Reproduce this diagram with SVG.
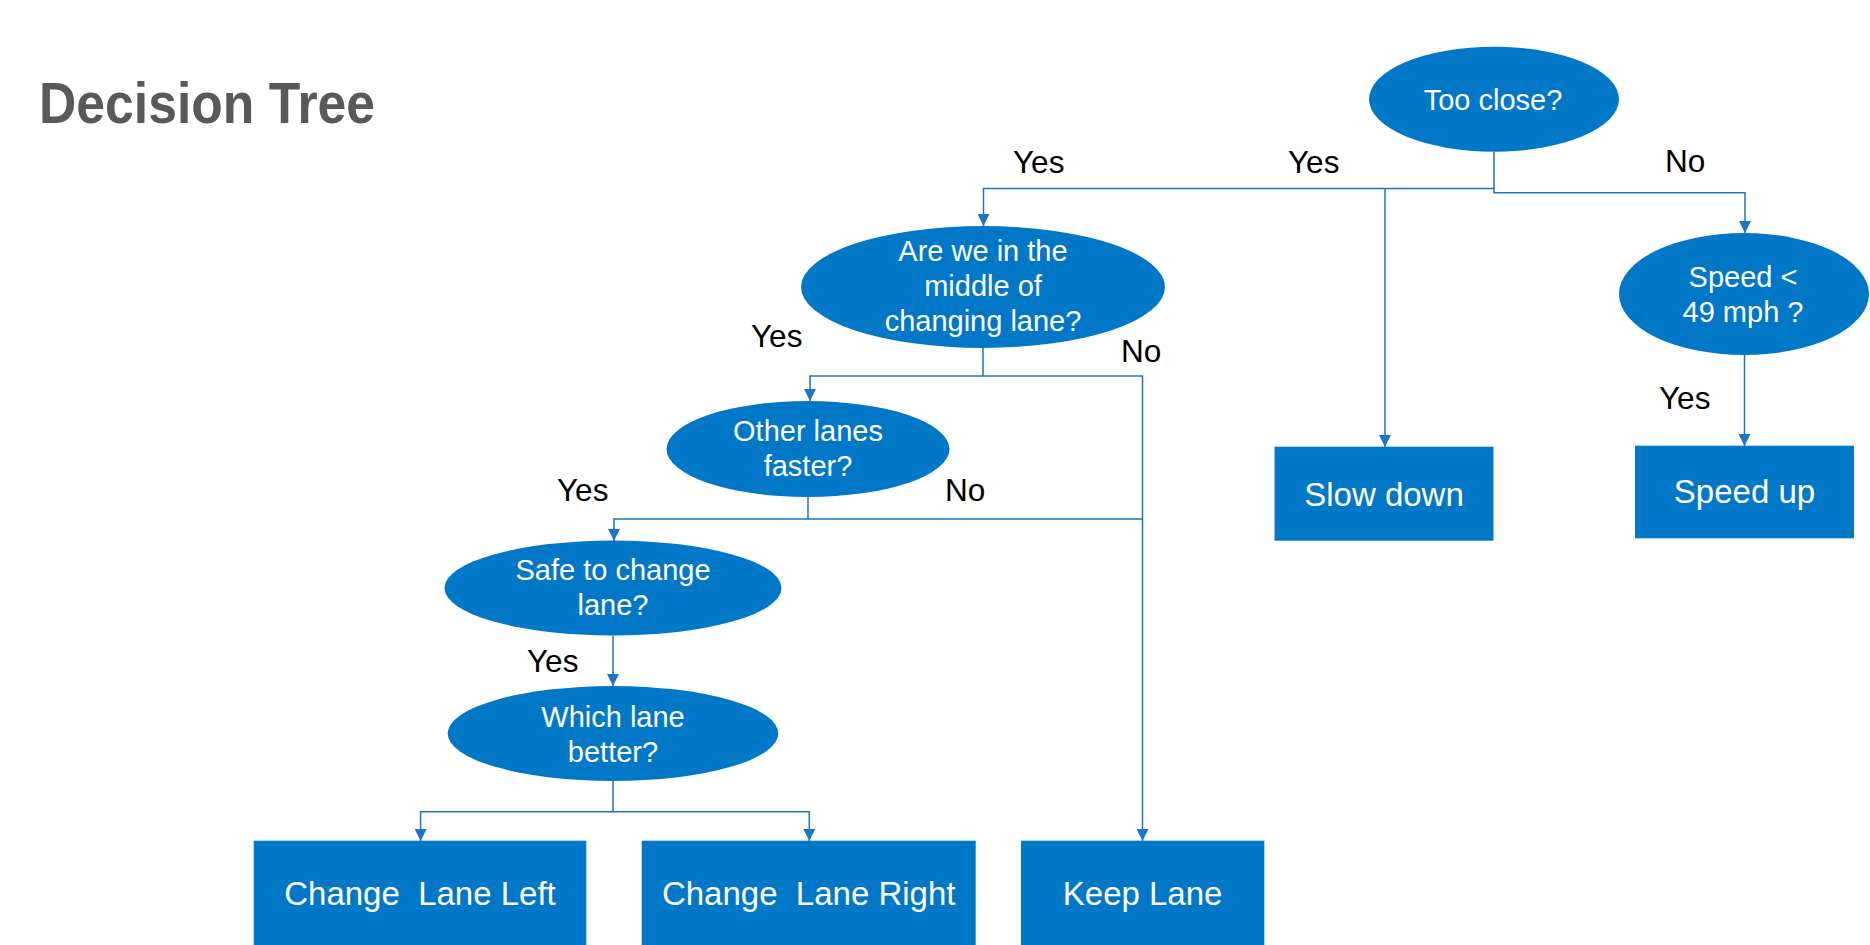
<svg xmlns="http://www.w3.org/2000/svg" width="1870" height="945" viewBox="0 0 1870 945">
<defs>
<marker id="arr" markerUnits="userSpaceOnUse" markerWidth="12" markerHeight="12" refX="12" refY="6" orient="auto">
<path d="M0,0 L12,6 L0,12 z" fill="#1C75C6"/>
</marker>
<style>
.n{fill:#0177C8;}
.c{fill:none;stroke:#1C75C6;stroke-width:1.5;}
.t{font-family:"Liberation Sans",Arial,sans-serif;fill:#fff;text-anchor:middle;font-size:29px;}
.b{font-family:"Liberation Sans",Arial,sans-serif;fill:#fff;text-anchor:middle;font-size:33px;white-space:pre;}
.l{font-family:"Liberation Sans",Arial,sans-serif;fill:#000;font-size:31.5px;}
</style>
</defs>
<rect width="1870" height="945" fill="#fff"/>
<text x="39" y="123" font-family="Liberation Sans,Arial,sans-serif" font-weight="bold" font-size="58" fill="#58595B" textLength="336" lengthAdjust="spacingAndGlyphs">Decision Tree</text>
<g id="connectors">
<path class="c" d="M1494,152 V188.5 H983.5 V226" marker-end="url(#arr)"/>
<path class="c" d="M1385,188.5 V447" marker-end="url(#arr)"/>
<path class="c" d="M1494,188 V192.7 H1745 V233" marker-end="url(#arr)"/>
<path class="c" d="M1744.5,355 V446" marker-end="url(#arr)"/>
<path class="c" d="M983,347 V376 H810 V401" marker-end="url(#arr)"/>
<path class="c" d="M983,376 H1142.5 V841" marker-end="url(#arr)"/>
<path class="c" d="M808,497 V519 H614 V541" marker-end="url(#arr)"/>
<path class="c" d="M808,519 H1142.5"/>
<path class="c" d="M613,636 V686" marker-end="url(#arr)"/>
<path class="c" d="M613,781 V811.7 H420.6 V841" marker-end="url(#arr)"/>
<path class="c" d="M613,811.7 H809.3 V841" marker-end="url(#arr)"/>
<text class="l" x="1013" y="172.5">Yes</text>
<text class="l" x="1288" y="172.5">Yes</text>
<text class="l" x="1665" y="172">No</text>
<text class="l" x="751" y="346.5">Yes</text>
<text class="l" x="1121" y="362">No</text>
<text class="l" x="557" y="501">Yes</text>
<text class="l" x="945" y="501">No</text>
<text class="l" x="527" y="672">Yes</text>
<text class="l" x="1659" y="409">Yes</text>
</g>
<g id="too-close">
<ellipse class="n" cx="1494" cy="99.2" rx="125" ry="52.5"/>
<text class="t" x="1493" y="110">Too close?</text>
</g>
<g id="speed-check">
<ellipse class="n" cx="1744" cy="294" rx="125" ry="61"/>
<text class="t" x="1743" y="287">Speed &lt;</text>
<text class="t" x="1743" y="322">49 mph ?</text>
</g>
<g id="changing-lane">
<ellipse class="n" cx="983" cy="287" rx="182" ry="61"/>
<text class="t" x="983" y="261">Are we in the</text>
<text class="t" x="983" y="296">middle of</text>
<text class="t" x="983" y="331">changing lane?</text>
</g>
<g id="other-lanes">
<ellipse class="n" cx="808" cy="449" rx="141.5" ry="48"/>
<text class="t" x="808" y="441">Other lanes</text>
<text class="t" x="808" y="476">faster?</text>
</g>
<g id="safe">
<ellipse class="n" cx="613" cy="588" rx="168.5" ry="47.5"/>
<text class="t" x="613" y="580">Safe to change</text>
<text class="t" x="613" y="615">lane?</text>
</g>
<g id="which-lane">
<ellipse class="n" cx="613" cy="733.5" rx="165.3" ry="47.5"/>
<text class="t" x="613" y="727">Which lane</text>
<text class="t" x="613" y="762">better?</text>
</g>
<g id="change-left">
<rect class="n" x="253.7" y="840.7" width="332.6" height="120"/>
<text class="b" x="420" y="905">Change  Lane Left</text>
</g>
<g id="change-right">
<rect class="n" x="641.7" y="840.7" width="334" height="120"/>
<text class="b" x="808.7" y="905">Change  Lane Right</text>
</g>
<g id="keep-lane">
<rect class="n" x="1021" y="840.7" width="243.3" height="120"/>
<text class="b" x="1142.6" y="905">Keep Lane</text>
</g>
<g id="slow-down">
<rect class="n" x="1274.5" y="446.7" width="219" height="94"/>
<text class="b" x="1384" y="506">Slow down</text>
</g>
<g id="speed-up">
<rect class="n" x="1635" y="445.7" width="219" height="92.6"/>
<text class="b" x="1744.5" y="503.3">Speed up</text>
</g>
</svg>
